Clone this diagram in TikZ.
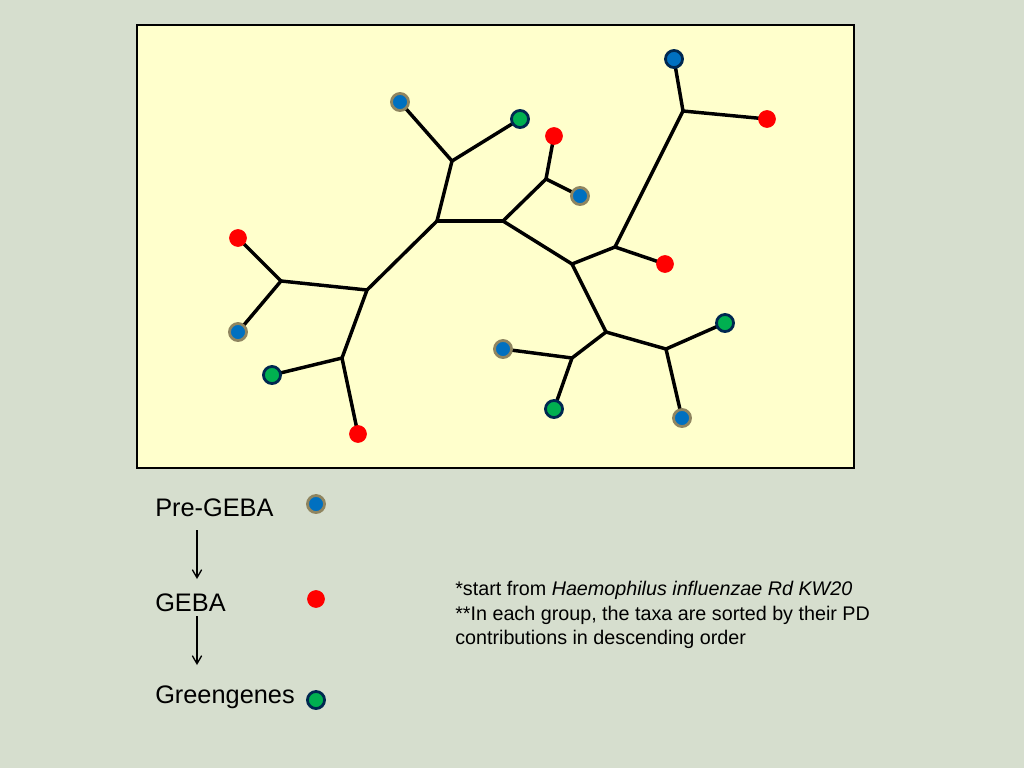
\documentclass[tikz,border=0pt]{standalone}
\usepackage{fontspec}
\setmainfont{Liberation Sans}
\usetikzlibrary{arrows.meta}
\definecolor{bg}{RGB}{214,222,206}
\definecolor{panel}{RGB}{255,255,204}
\definecolor{dblue}{RGB}{0,112,192}
\definecolor{olive}{RGB}{143,133,96}
\definecolor{dgreen}{RGB}{0,176,80}
\definecolor{navy}{RGB}{0,40,80}
\begin{document}
\begin{tikzpicture}[x=0.75pt,y=-0.75pt,
  branch/.style={line width=2.6pt,line cap=round,line join=round},
  pre/.style={circle,fill=dblue,draw=olive,line width=2.1pt,minimum size=12.8pt,inner sep=0pt},
  prenavy/.style={pre,draw=navy},
  geba/.style={circle,fill=red,minimum size=13.3pt,inner sep=0pt},
  gg/.style={circle,fill=dgreen,draw=navy,line width=2.1pt,minimum size=12.8pt,inner sep=0pt},
  legtext/.style={font=\fontsize{19pt}{22pt}\selectfont,anchor=west,inner sep=0pt},
  legarrow/.style={line width=1pt,-{Straight Barb[length=6pt,width=7pt]}}]
\useasboundingbox[fill=bg] (0,0) rectangle (1024,768);
\draw[line width=2.2pt,fill=panel] (137,25) rectangle (854,468);
% internal coordinates
\coordinate (A) at (437,221);
\coordinate (B) at (503,221);
\coordinate (C) at (367,290);
\coordinate (D) at (452,161);
\coordinate (E) at (546,179);
\coordinate (F) at (572,264);
\coordinate (G) at (615,247);
\coordinate (H) at (683,111);
\coordinate (I) at (606,332);
\coordinate (J) at (572,358);
\coordinate (K) at (666,349);
\coordinate (L) at (281,281);
\coordinate (M) at (342,358);
% leaves
\coordinate (d1) at (400,102);
\coordinate (d2) at (520,119);
\coordinate (e1) at (554,136);
\coordinate (e2) at (580,196);
\coordinate (g1) at (665,264);
\coordinate (h1) at (674,59);
\coordinate (h2) at (767,119);
\coordinate (j1) at (503,349);
\coordinate (j2) at (554,409);
\coordinate (k1) at (725,323);
\coordinate (k2) at (682,418);
\coordinate (l1) at (238,238);
\coordinate (l2) at (238,332);
\coordinate (m1) at (272,375);
\coordinate (m2) at (358,434);
% branches
\draw[branch] (A) -- (B);
\draw[branch] (A) -- (C);
\draw[branch] (A) -- (D);
\draw[branch] (D) -- (d1);
\draw[branch] (D) -- (d2);
\draw[branch] (B) -- (E);
\draw[branch] (E) -- (e1);
\draw[branch] (E) -- (e2);
\draw[branch] (B) -- (F);
\draw[branch] (F) -- (G);
\draw[branch] (G) -- (g1);
\draw[branch] (G) -- (H);
\draw[branch] (H) -- (h1);
\draw[branch] (H) -- (h2);
\draw[branch] (F) -- (I);
\draw[branch] (I) -- (J);
\draw[branch] (J) -- (j1);
\draw[branch] (J) -- (j2);
\draw[branch] (I) -- (K);
\draw[branch] (K) -- (k1);
\draw[branch] (K) -- (k2);
\draw[branch] (C) -- (L);
\draw[branch] (L) -- (l1);
\draw[branch] (L) -- (l2);
\draw[branch] (C) -- (M);
\draw[branch] (M) -- (m1);
\draw[branch] (M) -- (m2);
% dots
\node[pre] (nd1) at (d1) {};
\node[gg] (nd2) at (d2) {};
\node[geba] (ne1) at (e1) {};
\node[pre] (ne2) at (e2) {};
\node[geba] (ng1) at (g1) {};
\node[prenavy] (nh1) at (h1) {};
\node[geba] (nh2) at (h2) {};
\node[pre] (nj1) at (j1) {};
\node[gg] (nj2) at (j2) {};
\node[gg] (nk1) at (k1) {};
\node[pre] (nk2) at (k2) {};
\node[geba] (nl1) at (l1) {};
\node[pre] (nl2) at (l2) {};
\node[gg] (nm1) at (m1) {};
\node[geba] (nm2) at (m2) {};
% legend
\node[legtext] (tpre) at (155,508) {Pre-GEBA};
\node[legtext] (tgeba) at (155,603) {GEBA};
\node[legtext] (tgg) at (155,697) {Greengenes};
\node[pre] (lpre) at (316,504) {};
\node[geba] (lgeba) at (316,599) {};
\node[gg] (lgg) at (316,700) {};
\coordinate (a1s) at (197,530);
\coordinate (a1e) at (197,579);
\coordinate (a2s) at (197,616);
\coordinate (a2e) at (197,665);
\draw[legarrow] (a1s) -- (a1e);
\draw[legarrow] (a2s) -- (a2e);
% note
\node[anchor=north west,inner sep=0pt,align=left,font=\fontsize{14.8pt}{18.4pt}\selectfont] (note) at (455,581)
 {*start from \textit{Haemophilus influenzae Rd KW20}\\
  **In each group, the taxa are sorted by their PD\\
  contributions in descending order};
\end{tikzpicture}
\end{document}
